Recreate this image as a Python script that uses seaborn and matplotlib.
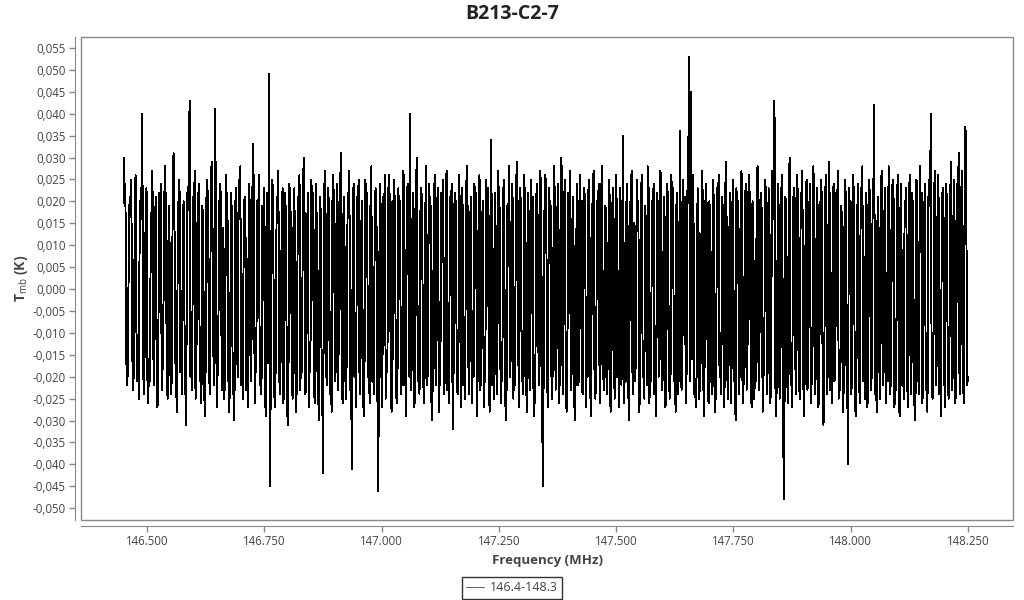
import numpy as np
import pandas as pd
import matplotlib
matplotlib.use("Agg")
import matplotlib.pyplot as plt
import matplotlib.ticker as mticker
from matplotlib.patches import Rectangle
import seaborn as sns

# spectrum B213-C2-7, channel values in mK
f_start, f_stop = 146.45, 148.25
tmb_mk = [
    30, 19, 24, -15, -22, -18, 9, 21, 17, 25, -12, -23, -19, 14, 26, -8, -21, -17, -25, 20,
    16, 22, 40, -18, -24, -11, 19, 23, -20, -26, -16, -21, 12, 18, 27, -14, -22, 15, 21, -19,
    -27, -13, 22, 17, 24, -23, -18, -6, 20, 28, 16, -21, -25, 11, 19, -17, -24, -20, 23, 31,
    18, -15, -22, -28, 14, 21, 25, -19, -12, -24, 17, 20, -9, -23, -31, 22, 18, 26, 43, -20,
    -16, -23, 21, 15, 27, -25, -18, 13, 20, 24, -21, -14, -26, 19, 16, -20, -29, -17, 22, 25,
    12, -19, -24, 20, 29, 17, -13, -22, 41, 23, -27, -20, -11, 18, 24, 21, -23, -16, 14, -25,
    -19, 26, 20, 15, -21, -28, -14, 22, 17, -24, -18, -30, 19, 23, -12, -20, 25, 16, 28, -22,
    -17, -25, 13, 21, 18, -23, -9, -27, 24, 20, -15, -21, 17, 33, 22, -26, -19, -13, 20, 15,
    26, -22, -18, -24, 19, 14, 23, -20, -29, 16, 22, -17, 49, -45, -21, 18, 25, 12, -23, -27,
    -15, 21, 19, 27, -20, -24, -11, 17, 23, -26, -19, 22, 16, -21, -31, -18, 24, 20, 14, -22,
    -25, 18, 23, -16, -28, -20, 21, 15, 26, -23, -12, -19, 20, 30, 17, -24, -21, 13, 22, -27,
    -18, -14, 25, 19, 22, -21, -26, 16, 24, -17, -23, -30, 21, 18, -13, -25, -42, 20, 27, 15,
    -22, -19, 23, 17, -24, -16, -28, 20, 26, 14, -21, -18, 24, -10, -23, 19, 22, 31, -20, -26,
    17, 21, -18, -25, -14, 22, 19, 27, -23, -17, -41, 16, 24, -20, -12, -27, 21, 18, 25, -19,
    -24, 13, 20, -22, -29, -16, 25, 18, 22, -20, -13, -26, 19, 28, -21, -18, -24, 15, 23, 20,
    -17, -46, -22, 24, 19, -20, -27, 21, 16, 26, -25, -14, -19, 22, 26, 18, -23, -28, 20, -16,
    25, 17, -21, -26, -18, 23, 14, 20, -24, -12, -22, 27, 19, -17, -29, 21, 24, 16, -20, 40,
    -23, -15, 22, 18, -27, -19, 25, 30, -21, -16, -24, 17, 23, 20, -13, -26, -20, 19, 28, -22,
    -18, 24, 15, 21, -25, -30, -14, 19, 26, -22, -17, 20, 23, -28, -19, -11, 22, 17, 25, -24,
    -20, 16, 27, -23, -18, -26, 21, 14, 24, -21, -32, 18, 22, 19, -16, -24, -20, 26, 13, -27,
    23, 19, -22, -15, -25, 20, 28, 17, -19, -24, 16, 21, -26, -13, -20, 24, 18, 22, -29, -17,
    21, 26, -23, -18, 15, 20, -27, -21, -14, 25, 19, 23, -20, -28, 17, 34, -22, -16, -25, 22,
    14, -19, -24, 27, 20, 18, -26, -12, -21, 22, 25, -17, -30, -23, 19, 16, 28, -20, -15, 21,
    24, -25, -18, -22, 17, 29, 20, -16, -27, 23, 19, -21, -13, -24, 26, 15, -19, -28, 22, 18,
    -20, -23, 25, 16, 21, -29, -17, -26, 20, 24, 13, -22, -18, 27, 19, -24, -45, -15, 22, 26,
    18, -21, -27, 23, 15, 20, -19, -25, -12, 28, 22, -23, -18, 17, 24, -26, -20, 21, 30, -16,
    -24, 19, 25, -20, -28, -14, 22, 17, 27, -23, -19, 16, 21, -25, -30, -17, 24, 20, -22, -18,
    26, 15, -21, -24, 20, 23, 18, -27, -16, -20, 25, 19, -23, -29, 14, 22, 27, -18, -25, -21,
    20, 17, 24, -19, -26, 22, 28, -15, -23, -20, 19, 16, -24, -12, 25, 21, -28, -22, 18, 23,
    -17, -25, 21, 26, -20, -14, -27, 23, 19, -22, 17, 35, -26, -18, -21, 24, 20, -23, -30, 16,
    22, 27, -19, -24, 15, -21, -16, 25, 20, 18, -28, -23, 21, 26, -17, -20, -25, 19, 14, -22,
    28, 23, -26, -18, -21, 20, 17, 24, -24, -13, -29, 22, 19, -20, -16, 27, 25, -23, -19, 21,
    16, -27, -22, 24, 20, -17, -25, -20, 26, 18, 23, -21, -14, -28, 19, 22, -24, -18, 36, 17,
    -23, -20, 25, 15, 21, -26, -19, 22, 28, 53, -21, 45, -16, 20, 26, -24, -22, -27, -18, 23,
    19, -25, -20, -14, 27, 22, -23, -29, 18, 24, 17, -21, -26, 20, 16, -19, -24, 25, 21, -22,
    -28, -17, 23, 19, 26, -20, -15, -24, 21, 18, -27, -22, 24, 29, -18, -25, -13, 22, 20, -26,
    17, 25, -21, -19, -30, 23, 16, 20, -24, -18, 22, 27, -20, -26, -15, 19, 24, -23, -17, 21,
    26, 18, -22, -27, 20, 15, -25, -19, -21, 24, 28, -16, -23, 19, 22, 17, -28, -20, -14, 25,
    21, -24, -18, 23, 19, -26, -22, 27, 20, 16, 43, -21, -29, -17, 24, 18, -25, -20, 22, 26,
    -19, -48, -23, 21, 17, -20, -26, 24, 30, -22, -15, -27, 19, 23, 20, -24, -18, 26, 15, -21,
    -25, 22, 18, 27, -20, -29, -16, 21, 25, -23, -19, 17, 24, -26, -21, -14, 28, 20, -24, -18,
    23, 19, -27, -22, 16, 25, 21, -20, -31, -17, 22, 26, -24, -19, 18, 29, -23, -15, -26, 20,
    24, -21, -18, 22, 17, 27, -25, -20, -23, 19, 15, -28, -22, 21, 25, -17, -19, -40, 23, 18,
    20, -24, -16, 26, 21, -22, -29, -19, 18, 24, -20, -26, 23, 17, 28, -21, -15, -25, 22, 19,
    -27, -18, 25, 20, -23, -20, 16, 22, 42, -24, -19, -28, 21, 18, -17, -25, 24, 27, -22, -20,
    17, 23, -26, -16, -21, 28, 19, -24, -18, 22, 25, 20, -27, -13, -23, 21, 26, -19, -29, 18,
    24, -22, -17, -25, 20, 15, 23, -21, -27, 19, 26, -18, -24, 22, 17, -20, -30, -23, 25, 21,
    -19, -24, 28, 18, 22, -26, -20, 16, 24, -23, -17, -28, 20, 25, 19, 40, -21, -25, -18, 23,
    27, -22, -16, 21, 26, -24, -20, -29, 18, 23, 17, -21, -27, 24, 20, -18, -25, -15, 22, 29,
    -23, -19, 25, 17, -26, -21, 24, 20, 31, -24, -18, 22, 27, -20, -26, 23, 37, 18, -22, -20,
]
series_label = "146.4-148.3"
title = "B213-C2-7"

df = pd.DataFrame({
    "freq": np.linspace(f_start, f_stop, len(tmb_mk)),
    "tmb": np.array(tmb_mk) / 1000.0,
})

sns.set_style("white")
plt.rcParams["font.family"] = ["Open Sans", "DejaVu Sans"]
plt.rcParams["mathtext.fontset"] = "custom"
plt.rcParams["mathtext.rm"] = "Open Sans"
plt.rcParams["mathtext.bf"] = "Open Sans:bold"

fig = plt.figure(figsize=(10.24, 6), dpi=100)
ax = fig.add_axes([0.0791, 0.1333, 0.9102, 0.805])

sns.lineplot(data=df, x="freq", y="tmb", ax=ax, color="black", linewidth=0.7,
             estimator=None, sort=False, label=series_label, antialiased=False)

ax.set_xlim(146.359, 148.346)
ax.set_ylim(-0.0527, 0.0575)
ax.xaxis.set_major_locator(mticker.MultipleLocator(0.25))
ax.xaxis.set_major_formatter(mticker.FormatStrFormatter("%.3f"))
ax.yaxis.set_major_locator(mticker.MultipleLocator(0.005))
ax.yaxis.set_major_formatter(mticker.FuncFormatter(
    lambda v, p: f"{v:.3f}".replace(".", ",").replace("-0,000", "0,000")))

gray = "#888888"
for s in ["left", "bottom"]:
    ax.spines[s].set_position(("outward", 4))
    ax.spines[s].set_color(gray)
for s in ["top", "right"]:
    ax.spines[s].set_visible(False)
ax.add_patch(Rectangle((0, 0), 1, 1, transform=ax.transAxes, fill=False,
                       edgecolor=gray, linewidth=1, clip_on=False, zorder=5))

ax.tick_params(axis="both", which="major", direction="out", length=4, width=1, pad=3,
               color=gray, labelcolor="#444444", labelsize=8.3, left=True, bottom=True)

fig.suptitle(title, x=0.5, y=0.993, fontsize=14, fontweight="bold", color="#222222")
ax.set_xlabel("Frequency (MHz)", fontsize=9.5, fontweight="bold", color="#444444", labelpad=4)
ax.set_ylabel(r"$\mathbf{T}_{\mathrm{mb}}$ (K)", fontsize=10, fontweight="bold",
              color="#444444", labelpad=2)

ax.get_legend().remove()
leg = fig.legend(loc="lower center", bbox_to_anchor=(0.5, -0.008), frameon=True, fancybox=False,
                 edgecolor="black", fontsize=9, handlelength=1.4, borderpad=0.35,
                 handletextpad=0.5, labelcolor="#444444")
leg.get_frame().set_linewidth(1.0)
for h in leg.get_lines():
    h.set_linewidth(0.6)
    h.set_color("#444444")

fig.savefig("out.png", dpi=100)
